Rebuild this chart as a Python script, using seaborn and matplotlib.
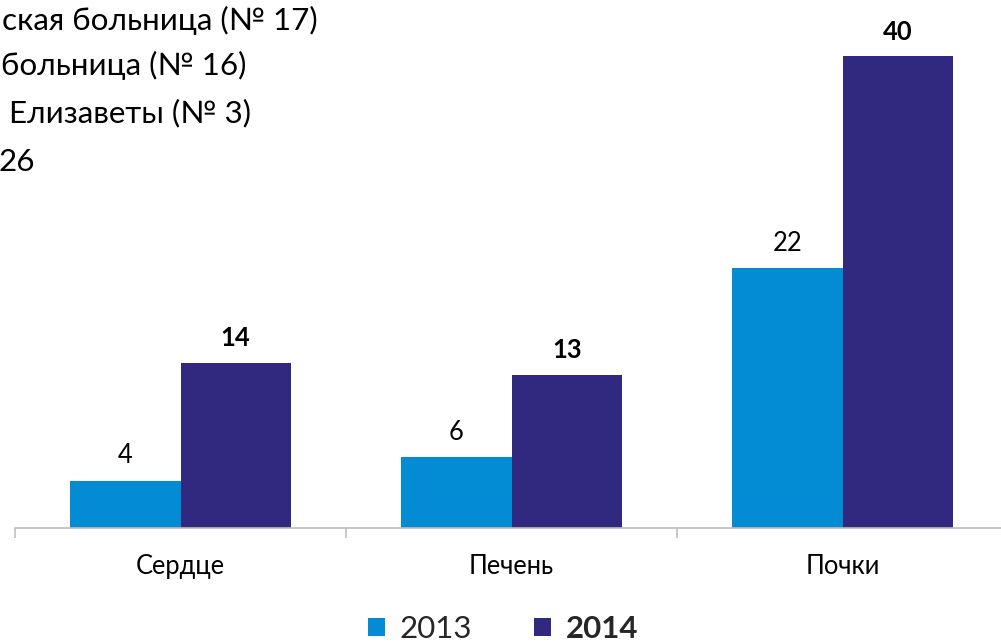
import matplotlib
matplotlib.use("Agg")
import matplotlib.pyplot as plt
import seaborn as sns
import pandas as pd
from matplotlib.patches import Patch

categories = ["Сердце", "Печень", "Почки"]
years = ["2013", "2014"]
values_2013 = [4, 6, 22]
values_2014 = [14, 13, 40]
side_texts = ["ская больница (№ 17)", "больница (№ 16)", " Елизаветы (№ 3)", "26"]

df = pd.DataFrame({
    "cat": categories * 2,
    "year": [years[0]] * 3 + [years[1]] * 3,
    "val": values_2013 + values_2014,
})

sns.set_theme(style="white")
FONT = ["Lato", "DejaVu Sans"]
plt.rcParams["font.family"] = FONT

c2013 = "#038bd3"
c2014 = "#312880"

fig = plt.figure(figsize=(10.01, 6.42), dpi=100)
ax = fig.add_axes([15 / 1001, 114 / 642, 993 / 1001, 44 * 11.8 / 642])

sns.barplot(data=df, x="cat", y="val", hue="year", palette=[c2013, c2014],
            width=0.667, gap=0, linewidth=0, saturation=1, ax=ax, legend=False)

ax.set_ylim(0, 44)
ax.set_xlim(-0.5, 2.5)
ax.set_xlabel("")
ax.set_ylabel("")
ax.set_yticks([])
for s in ["left", "right", "top"]:
    ax.spines[s].set_visible(False)
ax.spines["bottom"].set_color("#bfbfbf")
ax.spines["bottom"].set_linewidth(1.2)

ax.tick_params(axis="x", which="major", length=0, pad=19, labelsize=18.4, labelcolor="#000000")
ax.set_xticks([-0.5, 0.5, 1.5, 2.5], minor=True)
ax.tick_params(axis="x", which="minor", length=7, width=1.2, color="#bfbfbf", direction="out")
ax.xaxis.set_tick_params(bottom=True, which="both")

conts = ax.containers
ax.bar_label(conts[0], labels=[str(v) for v in values_2013], padding=9, fontsize=18.4, color="#000000")
ax.bar_label(conts[1], labels=[str(v) for v in values_2014], padding=9, fontsize=18.4,
             fontweight="bold", color="#000000")

ys = [20, 65, 113, 162]
xs = [318, 246, 251, 35]
for t, x, y in zip(side_texts, xs, ys):
    fig.text(x / 1001, 1 - y / 642, t, ha="right", va="center", fontsize=22.6, color="#000000")

handles = [Patch(facecolor=c2013, edgecolor="none"), Patch(facecolor=c2014, edgecolor="none")]
leg = fig.legend(handles, years, loc="center", bbox_to_anchor=(503 / 1001, 1 - 629 / 642),
                 ncol=2, frameon=False, fontsize=22.5, handlelength=0.55, handleheight=0.55,
                 handletextpad=0.45, columnspacing=2.0, borderpad=0, borderaxespad=0)
leg.get_texts()[1].set_fontweight("bold")

fig.savefig("out.png", dpi=100)
